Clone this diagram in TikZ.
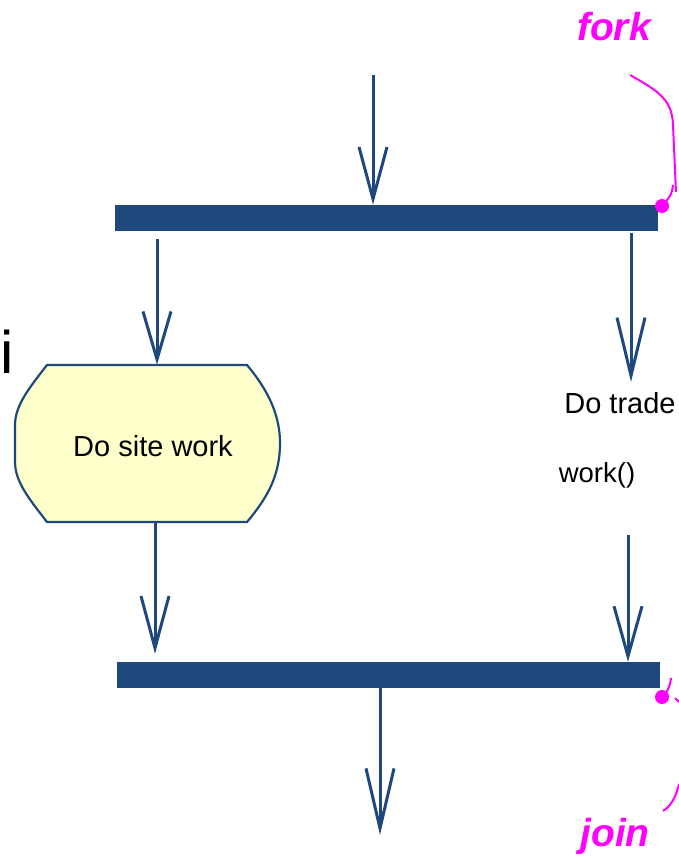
\documentclass[tikz,border=0pt]{standalone}
\usepackage{fontspec}
\setmainfont{Liberation Sans}
\usetikzlibrary{arrows.meta}
\definecolor{navy}{RGB}{31,73,125}
\definecolor{boxfill}{RGB}{255,255,204}
\definecolor{mag}{RGB}{255,0,255}
\tikzset{
  barnode/.style={fill=navy, draw=none, inner sep=0pt, minimum width=543pt, minimum height=26pt},
  arr/.style={draw=navy, line width=3pt, -{Straight Barb[length=#1, width=28pt, line width=3pt]}},
  arr/.default=50pt,
  magline/.style={draw=mag, line width=2pt},
  labeltext/.style={text=mag, font=\fontsize{39}{44}\selectfont\bfseries\itshape, inner sep=0pt},
  bodytext/.style={font=\fontsize{29}{34}\selectfont, inner sep=0pt},
}
\begin{document}
\begin{tikzpicture}[x=1pt,y=-1pt]
\useasboundingbox (0,0) rectangle (678,858);
% bars
\node[barnode] (fork) at (386.5,218) {};
\node[barnode] (join) at (388.5,675) {};
% activity box
\node[minimum width=265pt, minimum height=157pt, inner sep=0pt] (site) at (147.5,443.5) {};
\draw[navy, line width=2.2pt, fill=boxfill]
  (47,365) -- (247,365)
  .. controls (268,390) and (280,415) .. (280,443)
  .. controls (280,475) and (268,497) .. (247,522)
  -- (47,522)
  .. controls (30,500) and (15,482) .. (15,462)
  -- (15,425)
  .. controls (15,405) and (30,387) .. (47,365) -- cycle;
\node[bodytext] (sitetxt) at (153,446) {Do site work};
% right texts
\node[bodytext, anchor=base] (trade) at (620,413) {Do trade};
\node[font=\fontsize{27.5}{32}\selectfont, inner sep=0pt, anchor=base] (work) at (597,482) {work()};
% cropped letter
\node[font=\fontsize{60}{66}\selectfont, inner sep=0pt, anchor=base west] (ifrag) at (0.5,373) {i};
% coordinates
\coordinate (topin) at (373,75);
\coordinate (cL) at (157,0);
\coordinate (cLb) at (155,0);
\coordinate (cR) at (631,0);
\coordinate (rin) at (628,535);
\coordinate (rend) at (631,382);
\coordinate (botout) at (380,835);
% arrows
\draw[arr=52pt] (topin) -- (fork.north -| topin);
\draw[arr=48pt] ([yshift=-8pt]fork.south -| cL) -- (site.north -| cL);
\draw[arr=58pt] ([yshift=-2pt]fork.south -| cR) -- (rend);
\draw[arr=52pt] (site.south -| cLb) -- ([yshift=8pt]join.north -| cLb);
\draw[arr=50pt] (rin) -- (join.north -| rin);
\draw[arr=60pt] (join.south -| botout) -- (botout);
% fork callout
\node[labeltext, anchor=base] (forklbl) at (614,41) {fork};
\coordinate (fk1) at (630,75);
\coordinate (fk2) at (676,192);
\coordinate (fkdot) at (662,206);
\draw[magline] (fk1) .. controls (660,92) and (672,100) .. (673,125) -- (fk2);
\draw[magline] (673,185) .. controls (672,196) and (667,200) .. (fkdot);
\fill[mag] (fkdot) circle (7pt);
% join callout
\node[labeltext, anchor=base] (joinlbl) at (615,846) {join};
\coordinate (jndot) at (662,697);
\fill[mag] (jndot) circle (7pt);
\draw[magline] (jndot) .. controls (668,692) and (670,686) .. (671,678);
\draw[magline] (675,698) -- (679,702);
\draw[magline] (663,811) .. controls (671,806) and (676,797) .. (679,784);
\end{tikzpicture}
\end{document}
